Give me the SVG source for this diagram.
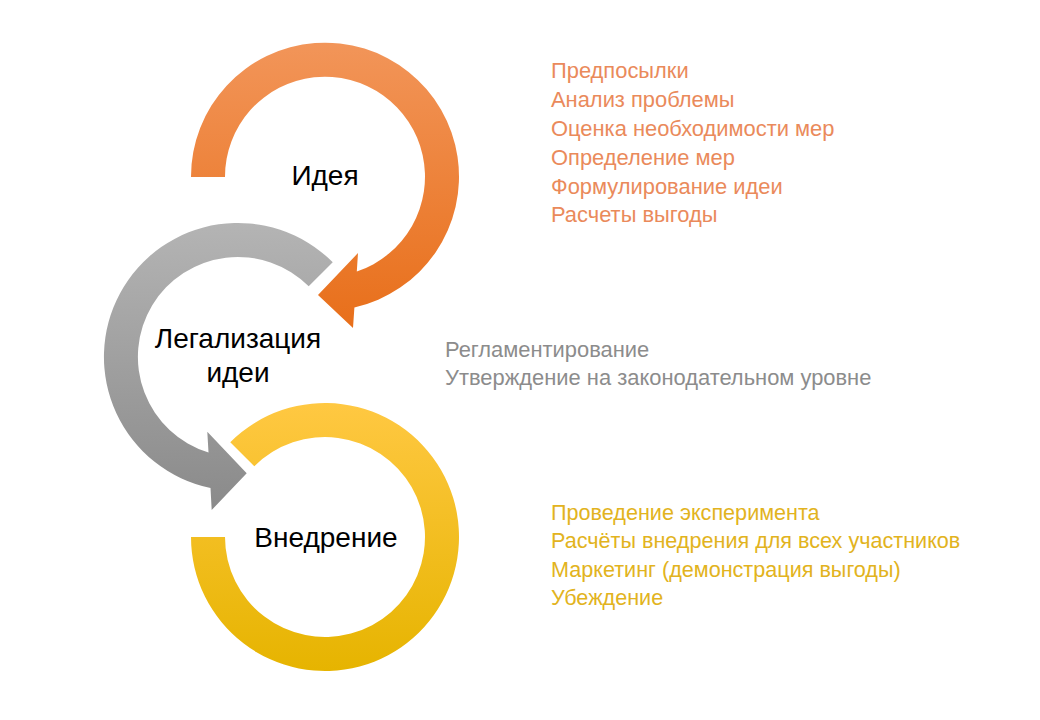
<svg xmlns="http://www.w3.org/2000/svg" width="1040" height="720" viewBox="0 0 1040 720">
  <defs>
    <linearGradient id="gOrange" x1="0" y1="0" x2="0" y2="1">
      <stop offset="0" stop-color="#F29559"/>
      <stop offset="1" stop-color="#E86F1A"/>
    </linearGradient>
    <linearGradient id="gGray" x1="0" y1="0" x2="0" y2="1">
      <stop offset="0" stop-color="#B4B4B4"/>
      <stop offset="1" stop-color="#8A8A8A"/>
    </linearGradient>
    <linearGradient id="gYellow" x1="0" y1="0" x2="0" y2="1">
      <stop offset="0" stop-color="#FFC842"/>
      <stop offset="1" stop-color="#E6B400"/>
    </linearGradient>
  </defs>
  <style>
    .lbl { font-family: "Liberation Sans", Arial, sans-serif; font-size: 28px; fill: #000; text-anchor: middle; }
    .list { font-family: "Liberation Sans", Arial, sans-serif; font-size: 22px; }
    .o { fill: #EA8A5B; font-size: 21.9px; }
    .g { fill: #8C8C8C; font-size: 21.9px; }
    .y { fill: #E2B320; font-size: 21.6px; }
  </style>
  <rect width="1040" height="720" fill="#FFFFFF"/>

  <g id="connectors">
    <path id="arrow-idea" fill="url(#gOrange)" d="M 191 177 A 134 134 0 1 1 354.4 307.4 L 353 328 L 318 295 L 358 253 L 356.8 271.5 A 100 100 0 1 0 225 177 Z"/>
    <path id="arrow-legal" fill="url(#gGray)" d="M 332.75 262.25 A 134 134 0 1 0 210.5 488.1 L 211.7 510 L 246.7 473.3 L 207.3 431.7 L 208.5 452.5 A 100 100 0 1 1 308.7 286.3 Z"/>
    <path id="arrow-impl" fill="url(#gYellow)" d="M 230.25 442.25 A 134 134 0 1 1 191 537 L 225 537 A 100 100 0 1 0 254.3 466.3 Z"/>
  </g>

  <g id="node-idea">
    <text class="lbl" x="325" y="185">Идея</text>
  </g>
  <g id="node-legal">
    <text class="lbl" x="238" y="348">Легализация</text>
    <text class="lbl" x="238" y="382">идеи</text>
  </g>
  <g id="node-impl">
    <text class="lbl" x="326" y="547">Внедрение</text>
  </g>

  <g id="list-idea" class="list o">
    <text x="551" y="78">Предпосылки</text>
    <text x="551" y="107">Анализ проблемы</text>
    <text x="551" y="136">Оценка необходимости мер</text>
    <text x="551" y="165">Определение мер</text>
    <text x="551" y="194">Формулирование идеи</text>
    <text x="551" y="222">Расчеты выгоды</text>
  </g>
  <g id="list-legal" class="list g">
    <text x="445" y="357">Регламентирование</text>
    <text x="445" y="385">Утверждение на законодательном уровне</text>
  </g>
  <g id="list-impl" class="list y">
    <text x="551" y="520">Проведение эксперимента</text>
    <text x="551" y="548">Расчёты внедрения для всех участников</text>
    <text x="551" y="577">Маркетинг (демонстрация выгоды)</text>
    <text x="551" y="605">Убеждение</text>
  </g>
</svg>
